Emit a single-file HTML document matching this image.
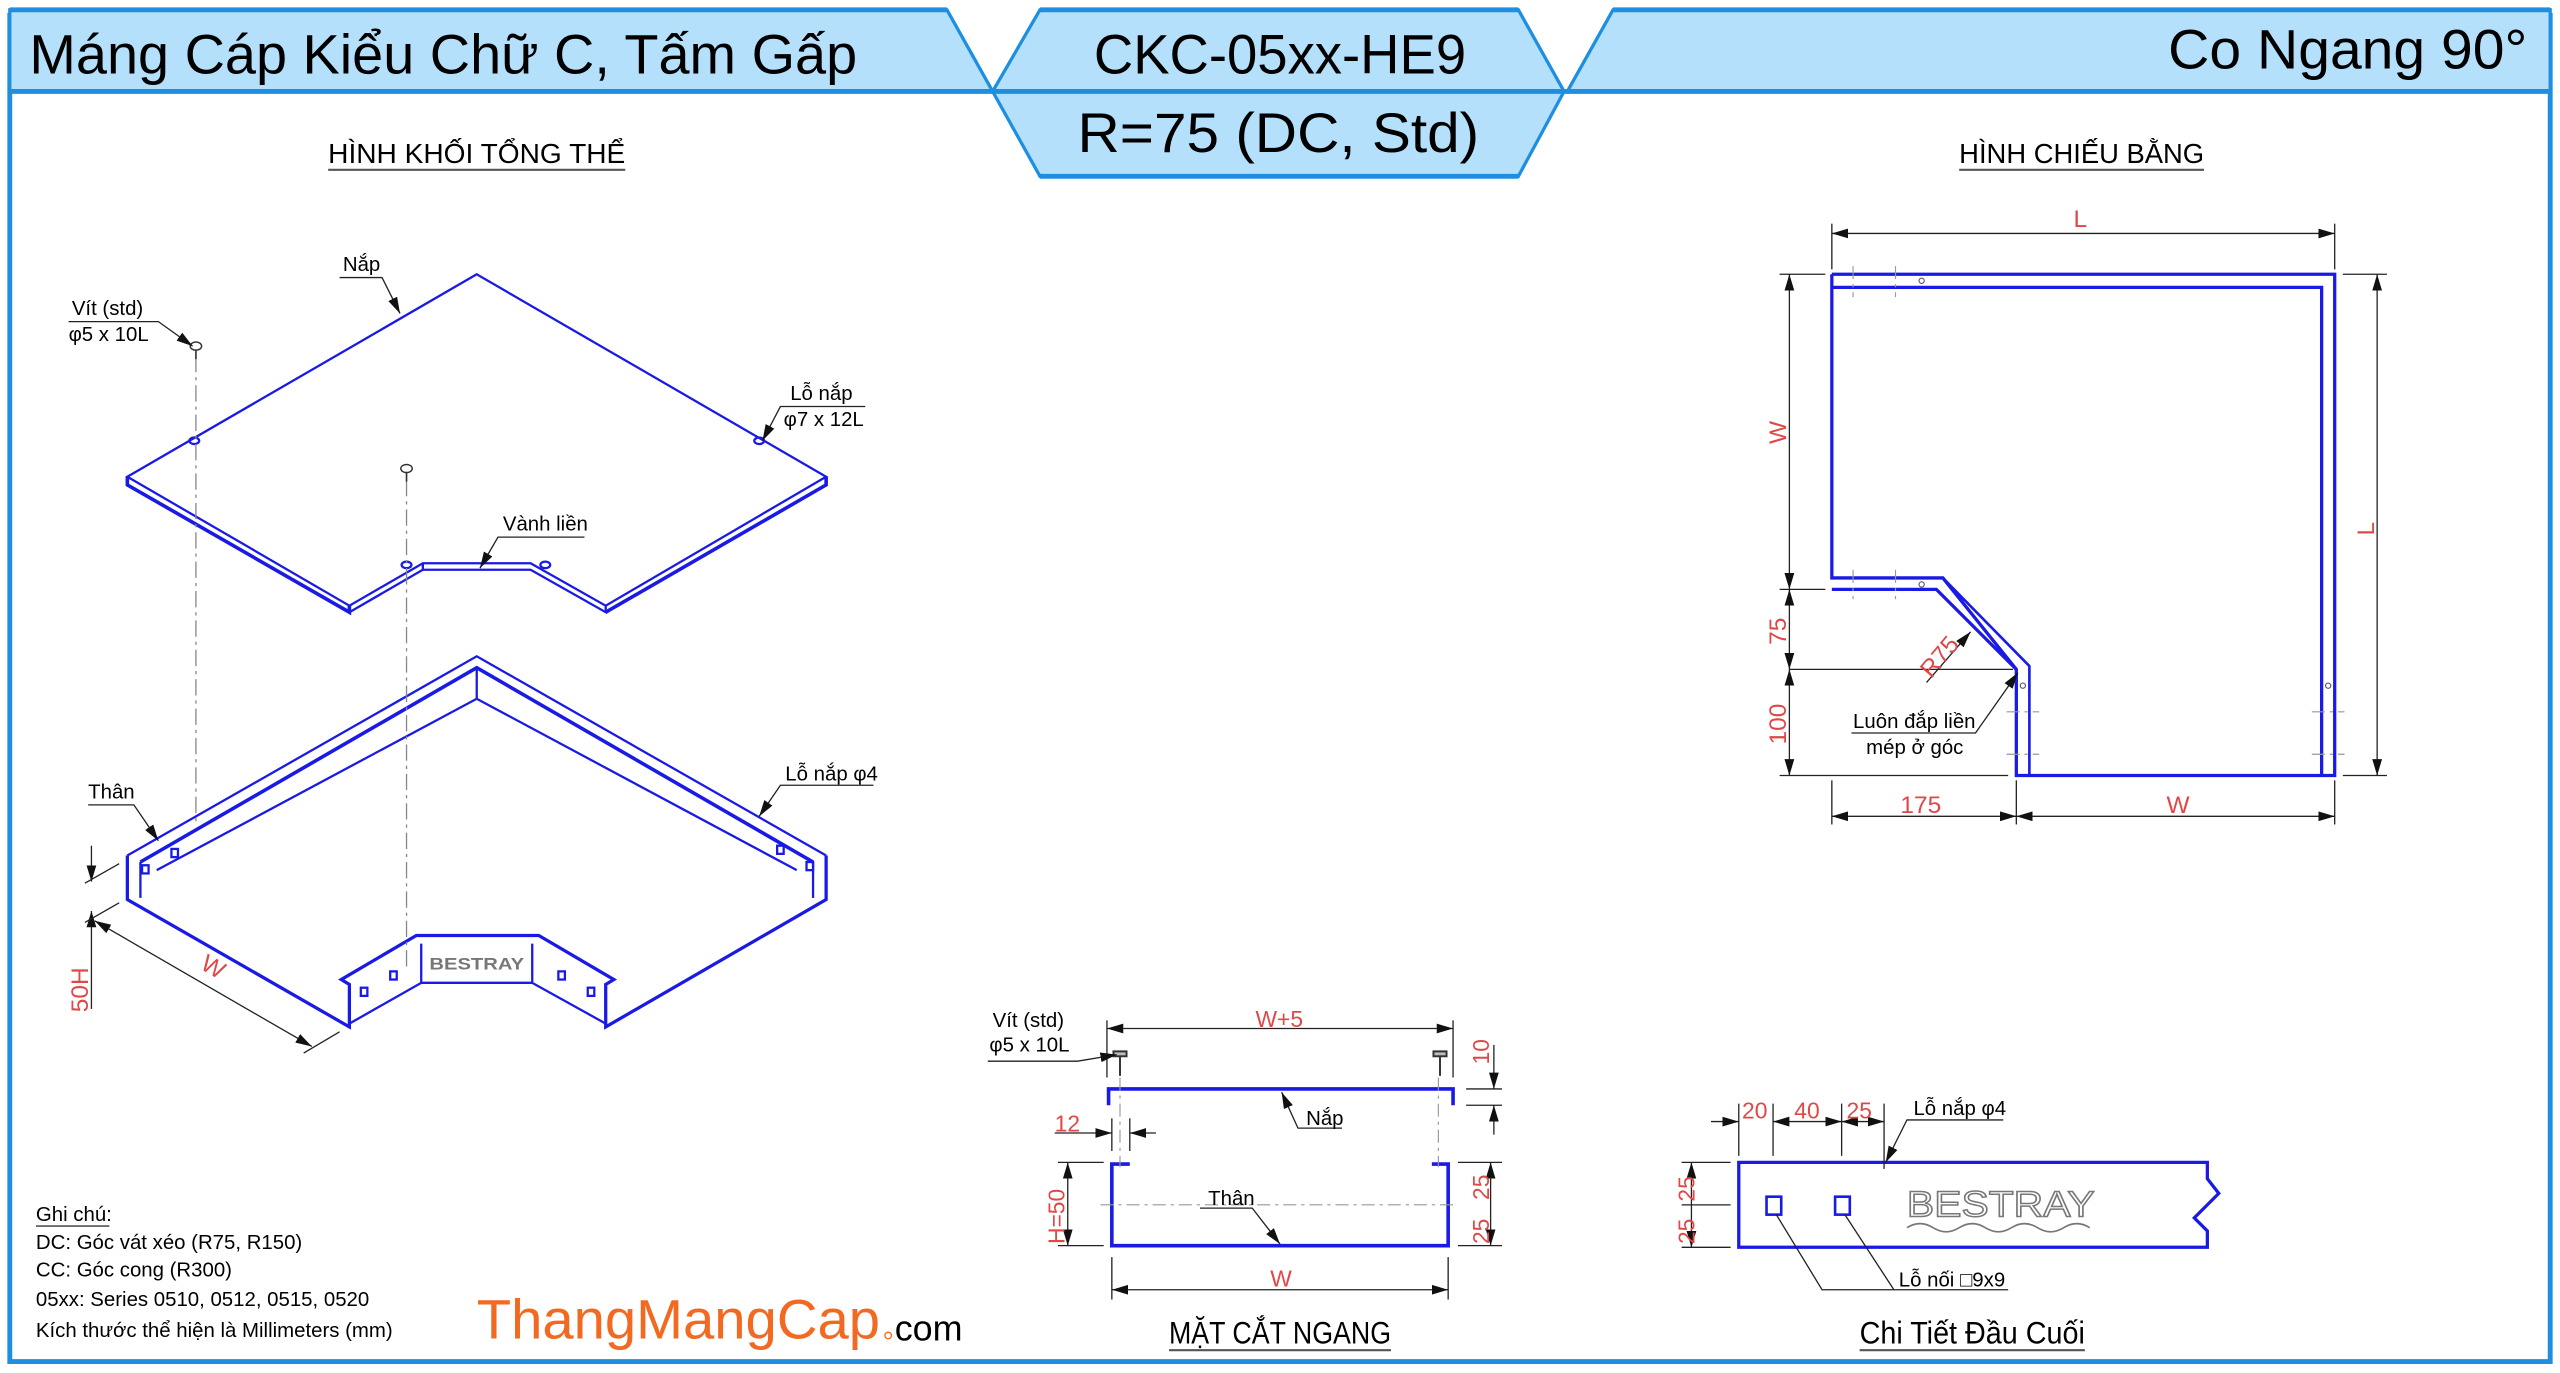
<!DOCTYPE html>
<html><head><meta charset="utf-8"><style>
html,body{margin:0;padding:0;background:#fff;width:2560px;height:1373px;overflow:hidden}
svg{display:block}
text{font-family:"Liberation Sans","DejaVu Sans",sans-serif}
</style></head><body>
<svg width="2560" height="1373" viewBox="0 0 1568 841" preserveAspectRatio="none" xmlns="http://www.w3.org/2000/svg">
<defs>
<marker id="a" viewBox="0 0 10 6" refX="10" refY="3" markerWidth="10" markerHeight="6" orient="auto-start-reverse" markerUnits="userSpaceOnUse"><path d="M0,0L10,3L0,6z" fill="#111"/></marker>
</defs>
<!-- frame -->
<path d="M6,8 L6,834 L1562,834 L1562,8" fill="none" stroke="#1e8fe0" stroke-width="3"/>
<!-- header -->
<polygon points="6,6 580,6 608,56 6,56" fill="#b5e0fb" stroke="#1e8fe0" stroke-width="2"/>
<polygon points="988,6 1562,6 1562,56 960,56" fill="#b5e0fb" stroke="#1e8fe0" stroke-width="2"/>
<polygon points="637,6 930,6 958,56 930,108 637,108 608,56" fill="#b5e0fb" stroke="#1e8fe0" stroke-width="2"/>
<line x1="6" y1="56" x2="1562" y2="56" stroke="#1e8fe0" stroke-width="3"/>
<g stroke="#1e8fe0" stroke-width="3"><line x1="6" y1="6" x2="580" y2="6"/><line x1="637" y1="6" x2="930" y2="6"/><line x1="988" y1="6" x2="1562" y2="6"/></g>
<line x1="637" y1="108" x2="930" y2="108" stroke="#1e8fe0" stroke-width="3"/>
<text x="18" y="45" font-size="34" textLength="507" lengthAdjust="spacingAndGlyphs">Máng Cáp Kiểu Chữ C, Tấm Gấp</text>
<text x="670" y="45" font-size="34" textLength="228" lengthAdjust="spacingAndGlyphs">CKC-05xx-HE9</text>
<text x="660" y="93" font-size="34" textLength="246" lengthAdjust="spacingAndGlyphs">R=75 (DC, Std)</text>
<text x="1328" y="42" font-size="34" textLength="220" lengthAdjust="spacingAndGlyphs">Co Ngang 90°</text>
<!-- section titles -->
<g font-size="17">
<text x="201" y="100" textLength="182" lengthAdjust="spacingAndGlyphs">HÌNH KHỐI TỔNG THỂ</text>
<line x1="201" y1="104" x2="383" y2="104" stroke="#555" stroke-width="1.3"/>
<text x="1200" y="100" textLength="150" lengthAdjust="spacingAndGlyphs">HÌNH CHIẾU BẰNG</text>
<line x1="1200" y1="104" x2="1350" y2="104" stroke="#555" stroke-width="1.3"/>
<text x="716" y="823" font-size="19" textLength="136" lengthAdjust="spacingAndGlyphs">MẶT CẮT NGANG</text>
<line x1="716" y1="827" x2="852" y2="827" stroke="#555" stroke-width="1.3"/>
<text x="1139" y="823" font-size="19" textLength="138" lengthAdjust="spacingAndGlyphs">Chi Tiết Đầu Cuối</text>
<line x1="1139" y1="827" x2="1277" y2="827" stroke="#555" stroke-width="1.3"/>
</g>
<!-- ISO: lid -->
<g fill="none" stroke="#1a1ae6" stroke-width="1.4">
<polygon points="292,168 78,292 214,371 259,345 325,345 371,371 506,292"/>
<polyline points="78,292 78,297 214,375 214,371" stroke-width="2.2"/>
<polyline points="259,345 259,349 214,375"/>
<polyline points="259,349 325,349 371,375 371,371"/>
<polyline points="371,375 506,297 506,292" stroke-width="2.2"/>
<ellipse cx="119" cy="270" rx="3" ry="2"/><ellipse cx="465" cy="270" rx="3" ry="2"/>
<ellipse cx="249" cy="346" rx="3" ry="2"/><ellipse cx="334" cy="346" rx="3" ry="2"/>
<!-- body -->
<polyline points="78,524 292,402 506,524" />
<polyline points="86,528 292,409 498,528" stroke-width="2.2"/>
<polyline points="96,533 292,428 488,533"/>
<line x1="292" y1="409" x2="292" y2="428"/>
<polyline points="78,524 78,551 214,629 214,603 209,600 255,573 330,573 376,600 371,603 371,629 506,551 506,524" stroke-width="2"/>
<polyline points="86,528 86,550"/><polyline points="498,528 498,550"/>
<polyline points="258,578 258,602 214,627"/><polyline points="326,578 326,602 371,627"/>
<line x1="258" y1="602" x2="326" y2="602"/>
<rect x="87" y="530" width="4" height="5"/><rect x="105" y="520" width="4" height="5"/>
<rect x="476" y="518" width="4" height="5"/><rect x="494" y="528" width="4" height="5"/>
<rect x="221" y="605" width="4" height="5"/><rect x="239" y="595" width="4" height="5"/>
<rect x="342" y="595" width="4" height="5"/><rect x="360" y="605" width="4" height="5"/>
</g>
<text x="263" y="594" font-size="10" font-weight="bold" fill="#777" textLength="58" lengthAdjust="spacingAndGlyphs">BESTRAY</text>
<!-- screws & centerlines -->
<g stroke="#888" stroke-width="0.8" stroke-dasharray="10,3,2,3">
<line x1="120" y1="218" x2="120" y2="505"/><line x1="249" y1="294" x2="249" y2="595"/>
</g>
<g fill="#fff" stroke="#333" stroke-width="0.9"><ellipse cx="120" cy="212" rx="3.5" ry="2.5"/><ellipse cx="249" cy="287" rx="3.5" ry="2.5"/></g>
<g stroke="#333" stroke-width="1"><line x1="120" y1="214" x2="120" y2="220"/><line x1="249" y1="289" x2="249" y2="295"/></g>
<!-- iso labels -->
<g font-size="12.5" fill="#000">
<text x="210" y="166">Nắp</text><text x="44" y="193">Vít (std)</text><text x="42" y="209">φ5 x 10L</text>
<text x="484" y="245">Lỗ nắp</text><text x="480" y="261">φ7 x 12L</text>
<text x="308" y="325">Vành liền</text><text x="54" y="489">Thân</text><text x="481" y="478">Lỗ nắp φ4</text>
</g>
<g stroke="#222" stroke-width="0.8" fill="none">
<polyline points="208,170 234,170 245,192" marker-end="url(#a)"/>
<polyline points="42,197 97,197 118,212" marker-end="url(#a)"/>
<polyline points="530,249 478,249 467,270" marker-end="url(#a)"/>
<polyline points="358,329 305,329 294,348" marker-end="url(#a)"/>
<polyline points="54,493 82,493 97,515" marker-end="url(#a)"/>
<polyline points="535,481 478,481 465,500" marker-end="url(#a)"/>
<line x1="56" y1="518" x2="56" y2="540" marker-end="url(#a)"/><line x1="56" y1="563" x2="56" y2="618"/>
<line x1="56" y1="563" x2="56" y2="558" marker-end="url(#a)"/>
<line x1="52" y1="541" x2="73" y2="529"/><line x1="52" y1="565" x2="73" y2="553"/>
<line x1="58" y1="564" x2="191" y2="641" marker-start="url(#a)" marker-end="url(#a)"/>
<line x1="186" y1="645" x2="208" y2="632"/>
</g>
<text transform="translate(54,620) rotate(-90)" font-size="15" fill="#e04848">50H</text>
<text transform="translate(122,593) rotate(30)" font-size="15" fill="#e04848">W</text>
<!-- PLAN -->
<g fill="none" stroke="#1a1ae6" stroke-width="2">
<polyline points="1122,168 1430,168 1430,475 1235,475 1235,410 1190,354 1122,354 1122,168"/>
<polyline points="1122,176 1422,176 1422,475"/>
<polyline points="1122,361 1186,361 1235,410"/>
<polyline points="1243,475 1243,408 1190,354" stroke-width="1.6"/>
</g>
<g stroke="#999" stroke-width="0.7" stroke-dasharray="8,3,2,3">
<line x1="1135" y1="163" x2="1135" y2="182"/><line x1="1161" y1="163" x2="1161" y2="182"/>
<line x1="1135" y1="349" x2="1135" y2="367"/><line x1="1161" y1="349" x2="1161" y2="367"/>
<line x1="1229" y1="436" x2="1249" y2="436"/><line x1="1229" y1="462" x2="1249" y2="462"/>
<line x1="1416" y1="436" x2="1436" y2="436"/><line x1="1416" y1="462" x2="1436" y2="462"/>
</g>
<g fill="none" stroke="#557" stroke-width="0.7"><circle cx="1177" cy="172" r="1.6"/><circle cx="1177" cy="358" r="1.6"/><circle cx="1239" cy="420" r="1.6"/><circle cx="1426" cy="420" r="1.6"/></g>
<g stroke="#222" stroke-width="0.8" fill="none">
<line x1="1122" y1="137" x2="1122" y2="165"/><line x1="1430" y1="137" x2="1430" y2="165"/>
<line x1="1122" y1="143" x2="1430" y2="143" marker-start="url(#a)" marker-end="url(#a)"/>
<line x1="1090" y1="168" x2="1118" y2="168"/><line x1="1090" y1="361" x2="1118" y2="361"/>
<line x1="1090" y1="475" x2="1230" y2="475"/><line x1="1096" y1="410" x2="1233" y2="410"/>
<line x1="1096" y1="168" x2="1096" y2="361" marker-start="url(#a)" marker-end="url(#a)"/>
<line x1="1096" y1="361" x2="1096" y2="410" marker-start="url(#a)" marker-end="url(#a)"/>
<line x1="1096" y1="410" x2="1096" y2="475" marker-start="url(#a)" marker-end="url(#a)"/>
<line x1="1435" y1="168" x2="1462" y2="168"/><line x1="1435" y1="475" x2="1462" y2="475"/>
<line x1="1456" y1="168" x2="1456" y2="475" marker-start="url(#a)" marker-end="url(#a)"/>
<line x1="1122" y1="478" x2="1122" y2="505"/><line x1="1235" y1="478" x2="1235" y2="505"/><line x1="1430" y1="478" x2="1430" y2="505"/>
<line x1="1122" y1="500" x2="1235" y2="500" marker-start="url(#a)" marker-end="url(#a)"/>
<line x1="1235" y1="500" x2="1430" y2="500" marker-start="url(#a)" marker-end="url(#a)"/>
<line x1="1180" y1="418" x2="1207" y2="387" marker-end="url(#a)"/>
<polyline points="1134,449 1210,449 1236,412" marker-end="url(#a)"/>
</g>
<g font-size="15" fill="#e04848">
<text x="1270" y="139">L</text><text x="1164" y="498">175</text><text x="1327" y="498">W</text>
<text transform="translate(1094,272) rotate(-90)">W</text>
<text transform="translate(1094,395) rotate(-90)">75</text>
<text transform="translate(1094,456) rotate(-90)">100</text>
<text transform="translate(1454,328) rotate(-90)">L</text>
<text transform="translate(1183,416) rotate(-50)">R75</text>
</g>
<g font-size="12.5"><text x="1135" y="446">Luôn đắp liền</text><text x="1143" y="462">mép ở góc</text></g>
<!-- SECTION -->
<g fill="none" stroke="#1a1ae6" stroke-width="2.2">
<polyline points="679,677 679,667 890,667 890,677"/>
<polyline points="692,713 681,713 681,763 887,763 887,713 877,713"/>
</g>
<g stroke="#999" stroke-width="0.7" stroke-dasharray="8,3,2,3">
<line x1="686" y1="660" x2="686" y2="715"/><line x1="881" y1="660" x2="881" y2="715"/>
<line x1="674" y1="738" x2="893" y2="738"/>
</g>
<g stroke="#333" stroke-width="1.2" fill="#bbb">
<rect x="682" y="644" width="8" height="3"/><rect x="878" y="644" width="8" height="3"/>
<line x1="686" y1="647" x2="686" y2="659"/><line x1="882" y1="647" x2="882" y2="659"/>
</g>
<g stroke="#222" stroke-width="0.8" fill="none">
<line x1="678" y1="625" x2="678" y2="660"/><line x1="890" y1="625" x2="890" y2="660"/>
<line x1="678" y1="630" x2="890" y2="630" marker-start="url(#a)" marker-end="url(#a)"/>
<line x1="681" y1="770" x2="681" y2="796"/><line x1="887" y1="770" x2="887" y2="796"/>
<line x1="681" y1="790" x2="887" y2="790" marker-start="url(#a)" marker-end="url(#a)"/>
<line x1="648" y1="712" x2="676" y2="712"/><line x1="648" y1="763" x2="676" y2="763"/>
<line x1="654" y1="712" x2="654" y2="763" marker-start="url(#a)" marker-end="url(#a)"/>
<line x1="898" y1="667" x2="920" y2="667"/><line x1="898" y1="677" x2="920" y2="677"/>
<line x1="915" y1="640" x2="915" y2="667" marker-end="url(#a)"/><line x1="915" y1="695" x2="915" y2="677" marker-end="url(#a)"/>
<line x1="893" y1="712" x2="920" y2="712"/><line x1="893" y1="763" x2="920" y2="763"/>
<line x1="913" y1="712" x2="913" y2="763" marker-start="url(#a)" marker-end="url(#a)"/>
<line x1="646" y1="694" x2="681" y2="694" marker-end="url(#a)"/><line x1="708" y1="694" x2="692" y2="694" marker-end="url(#a)"/>
<line x1="681" y1="685" x2="681" y2="705"/><line x1="692" y1="685" x2="692" y2="705"/>
<polyline points="605,650 660,650 684,646" marker-end="url(#a)"/>
<polyline points="822,691 795,691 785,669" marker-end="url(#a)"/>
<polyline points="735,740 767,740 784,762" marker-end="url(#a)"/>
</g>
<g font-size="12.5">
<text x="608" y="629">Vít (std)</text><text x="606" y="644">φ5 x 10L</text>
<text x="800" y="689">Nắp</text><text x="740" y="738">Thân</text>
</g>
<g font-size="14" fill="#e04848">
<text x="769" y="629">W+5</text><text x="778" y="788">W</text><text x="646" y="693">12</text>
<text transform="translate(652,762) rotate(-90)">H=50</text>
<text transform="translate(912,652) rotate(-90)">10</text>
<text transform="translate(912,735) rotate(-90)">25</text>
<text transform="translate(912,762) rotate(-90)">25</text>
</g>
<!-- END DETAIL -->
<polygon points="1065,712 1352,712 1352,722 1359,731 1344,746 1352,754 1352,764 1065,764" fill="none" stroke="#1a1ae6" stroke-width="2"/>
<g fill="none" stroke="#1a1ae6" stroke-width="1.6"><rect x="1082" y="733" width="9" height="11"/><rect x="1124" y="733" width="9" height="11"/></g>
<text x="1168" y="745" font-size="22" fill="#fff" stroke="#777" stroke-width="0.9" textLength="115" lengthAdjust="spacingAndGlyphs">BESTRAY</text>
<path d="M1168,752 q8,-5 16,0 t16,0 t16,0 t16,0 t16,0 t16,0 t16,0" fill="none" stroke="#777" stroke-width="1"/>
<g stroke="#222" stroke-width="0.8" fill="none">
<line x1="1065" y1="676" x2="1065" y2="708"/><line x1="1086" y1="676" x2="1086" y2="708"/><line x1="1128" y1="676" x2="1128" y2="708"/><line x1="1154" y1="676" x2="1154" y2="716"/>
<line x1="1048" y1="687" x2="1065" y2="687" marker-end="url(#a)"/>
<line x1="1086" y1="687" x2="1128" y2="687" marker-start="url(#a)" marker-end="url(#a)"/>
<line x1="1128" y1="687" x2="1154" y2="687" marker-start="url(#a)" marker-end="url(#a)"/>
<line x1="1030" y1="712" x2="1060" y2="712"/><line x1="1030" y1="764" x2="1060" y2="764"/><line x1="1030" y1="738" x2="1060" y2="738"/>
<line x1="1036" y1="712" x2="1036" y2="764" marker-start="url(#a)" marker-end="url(#a)"/>
<polyline points="1227,686 1168,686 1155,712" marker-end="url(#a)"/>
<polyline points="1230,790 1116,790 1088,744"/><line x1="1160" y1="790" x2="1130" y2="744"/>
</g>
<g font-size="14" fill="#e04848">
<text x="1067" y="685">20</text><text x="1099" y="685">40</text><text x="1131" y="685">25</text>
<text transform="translate(1038,736) rotate(-90)">25</text><text transform="translate(1038,762) rotate(-90)">25</text>
</g>
<g font-size="12.5"><text x="1172" y="683">Lỗ nắp φ4</text><text x="1163" y="788">Lỗ nối □9x9</text></g>
<!-- notes -->
<g font-size="12.5">
<text x="22" y="748">Ghi chú:</text><line x1="22" y1="751" x2="67" y2="751" stroke="#555"/>
<text x="22" y="765">DC: Góc vát xéo (R75, R150)</text>
<text x="22" y="782">CC: Góc cong (R300)</text>
<text x="22" y="800">05xx: Series 0510, 0512, 0515, 0520</text>
<text x="22" y="819">Kích thước thể hiện là Millimeters (mm)</text>
</g>
<text x="292" y="820" font-size="34" fill="#f26a21" textLength="247" lengthAdjust="spacingAndGlyphs">ThangMangCap</text>
<circle cx="544" cy="818" r="2" fill="none" stroke="#f26a21" stroke-width="0.8"/>
<text x="548" y="821" font-size="22" fill="#000">com</text>
</svg>
</body></html>
